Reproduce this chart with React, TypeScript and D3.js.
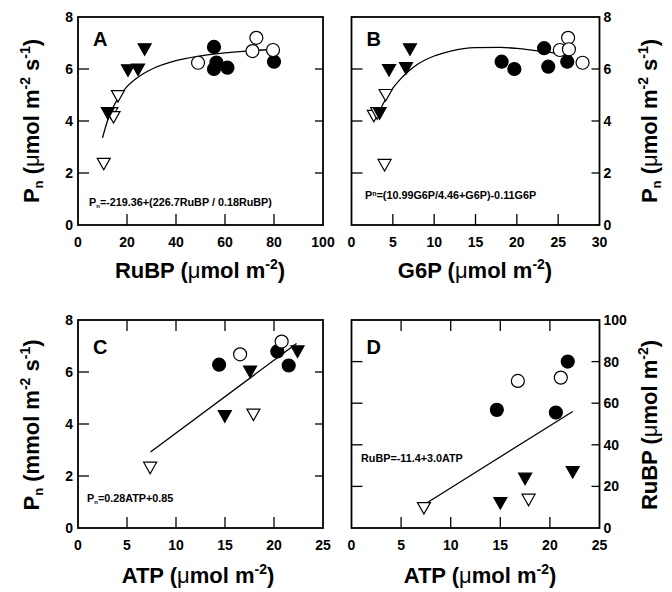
import React from 'react';
import * as d3 from 'd3';

const FONT = "'Liberation Sans', Arial, Helvetica, sans-serif";

// Panel A: Pn vs RuBP
const aRubp = [10.5, 16.3, 13.6, 14.5, 12.2, 20.4, 24.5, 27.2, 55.5, 55.5, 56.5, 61, 80, 49, 72.8, 71.2, 79.6];
const aPn = [2.35, 4.96, 4.3, 4.15, 4.3, 5.95, 5.98, 6.76, 6.85, 6.0, 6.25, 6.05, 6.28, 6.24, 7.2, 6.69, 6.73];
const aKind = ['ot', 'ot', 'ot', 'ot', 'ft', 'ft', 'ft', 'ft', 'fc', 'fc', 'fc', 'fc', 'fc', 'oc', 'oc', 'oc', 'oc'];
const aFitX = [10, 12, 15, 20, 25, 30, 40, 50, 60, 70, 80];
const aFitY = [3.35, 4.0, 4.65, 5.32, 5.72, 5.99, 6.32, 6.5, 6.62, 6.7, 6.75];

// Panel B: Pn vs G6P
const bG6p = [4.0, 4.13, 2.7, 3.1, 3.4, 4.54, 6.59, 7.07, 18.16, 19.7, 23.3, 23.8, 26.1, 26.2, 25.2, 26.3, 27.95];
const bPn = [2.31, 5.0, 4.2, 4.3, 4.3, 5.96, 6.03, 6.76, 6.28, 6.0, 6.8, 6.09, 6.28, 7.2, 6.73, 6.76, 6.24];
const bKind = ['ot', 'ot', 'ot', 'ot', 'ft', 'ft', 'ft', 'ft', 'fc', 'fc', 'fc', 'fc', 'fc', 'oc', 'oc', 'oc', 'oc'];
const bFitX = [3, 4, 5, 6, 7, 8, 10, 12, 15, 18, 20, 22, 25];
const bFitY = [4.15, 4.76, 5.26, 5.64, 5.94, 6.18, 6.5, 6.69, 6.82, 6.83, 6.79, 6.72, 6.6];

// Panel C: Pn vs ATP
const cAtp = [7.36, 14.98, 17.9, 17.56, 22.4, 14.4, 20.34, 21.5, 16.54, 20.78];
const cPn = [2.32, 4.3, 4.36, 6.02, 6.79, 6.28, 6.79, 6.25, 6.68, 7.17];
const cKind = ['ot', 'ft', 'ot', 'ft', 'ft', 'fc', 'fc', 'fc', 'oc', 'oc'];
const cFitX = [7.4, 22.3];
const cFitY = [2.92, 7.1];

// Panel D: RuBP vs ATP
const dAtp = [7.3, 15.0, 17.85, 17.5, 22.3, 14.65, 20.6, 21.8, 16.77, 21.1];
const dRubp = [9.6, 12, 13.6, 23.7, 26.9, 56.8, 55.5, 80, 70.7, 72.3];
const dKind = ['ot', 'ft', 'ot', 'ft', 'ft', 'fc', 'fc', 'fc', 'oc', 'oc'];
const dFitX = [7.5, 22.3];
const dFitY = [11.8, 56];

const pnTicks = [0, 2, 4, 6, 8];
const rubpTicks = [0, 20, 40, 60, 80, 100];
const g6pTicks = [0, 5, 10, 15, 20, 25, 30];
const atpTicks = [0, 5, 10, 15, 20, 25];

type Box = { x0: number; x1: number; y0: number; y1: number };

const Marker = ({ x, y, kind }: { x: number; y: number; kind: string }) => {
  const fill = kind[0] === 'f' ? '#000' : '#fff';
  if (kind[1] === 'c') {
    return <circle cx={x} cy={y} r={6.5} fill={fill} stroke="#000" strokeWidth={1.2} />;
  }
  const path = `M${x - 6.5},${y - 5.5}L${x + 6.5},${y - 5.5}L${x},${y + 6}Z`;
  return <path d={path} fill={fill} stroke="#000" strokeWidth={1.2} />;
};

interface PanelProps {
  box: Box;
  xTicks: number[];
  yTicks: number[];
  xs: number[];
  ys: number[];
  kinds: string[];
  fitX: number[];
  fitY: number[];
  smooth: boolean;
  letter: string;
  letterY: number;
  labelsRight: boolean;
  topTicks: boolean;
}

const Panel: React.FC<PanelProps> = ({ box, xTicks, yTicks, xs, ys, kinds, fitX, fitY, smooth, letter, letterY, labelsRight, topTicks }) => {
  const x = d3.scaleLinear().domain([xTicks[0], xTicks[xTicks.length - 1]]).range([box.x0, box.x1]);
  const y = d3.scaleLinear().domain([yTicks[0], yTicks[yTicks.length - 1]]).range([box.y1, box.y0]);
  const line = d3.line<number>()
    .x((_, i) => x(fitX[i]))
    .y((d) => y(d))
    .curve(smooth ? d3.curveMonotoneX : d3.curveLinear);
  const tl = 11;
  const innerX = xTicks.slice(1, -1);
  const innerY = yTicks.slice(1, -1);
  return (
    <g>
      <rect x={box.x0} y={box.y0} width={box.x1 - box.x0} height={box.y1 - box.y0} fill="none" stroke="#000" strokeWidth={1.8} />
      {innerX.map((t) => (
        <line key={'xb' + t} x1={x(t)} x2={x(t)} y1={box.y1} y2={box.y1 - tl} stroke="#000" strokeWidth={1.3} />
      ))}
      {topTicks && innerX.map((t) => (
        <line key={'xt' + t} x1={x(t)} x2={x(t)} y1={box.y0} y2={box.y0 + tl} stroke="#000" strokeWidth={1.3} />
      ))}
      {innerY.map((t) => (
        <g key={'y' + t}>
          <line x1={box.x0} x2={box.x0 + tl} y1={y(t)} y2={y(t)} stroke="#000" strokeWidth={1.3} />
          <line x1={box.x1} x2={box.x1 - 8} y1={y(t)} y2={y(t)} stroke="#000" strokeWidth={1.3} />
        </g>
      ))}
      {xTicks.map((t) => (
        <text key={'xl' + t} x={x(t)} y={box.y1 + 22} textAnchor="middle" fontSize={14} fontWeight="bold" fontFamily={FONT}>{t}</text>
      ))}
      {yTicks.map((t) => (
        <text key={'yl' + t} x={labelsRight ? box.x1 + 4 : box.x0 - 5} y={y(t) + 5} textAnchor={labelsRight ? 'start' : 'end'} fontSize={14} fontWeight="bold" fontFamily={FONT}>{t}</text>
      ))}
      <path d={line(fitY) || ''} fill="none" stroke="#000" strokeWidth={1.3} />
      {xs.map((v, i) => (
        <Marker key={i} x={x(v)} y={y(ys[i])} kind={kinds[i]} />
      ))}
      <text x={box.x0 + 15} y={letterY} fontSize={20} fontWeight="bold" fontFamily={FONT}>{letter}</text>
    </g>
  );
};

const YTitle = ({ cx, cy, mmol }: { cx: number; cy: number; mmol?: boolean }) => (
  <text transform={`translate(${cx},${cy}) rotate(-90)`} textAnchor="middle" fontSize={22} fontWeight="bold" fontFamily={FONT}>
    P<tspan dy={4} fontSize={13}>n</tspan>
    <tspan dy={-4}> (</tspan>
    {mmol ? 'm' : <tspan fontWeight="normal">μ</tspan>}mol m
    <tspan dy={-9} fontSize={14}>-2</tspan>
    <tspan dy={9}> s</tspan>
    <tspan dy={-9} fontSize={14}>-1</tspan>
    <tspan dy={9}>)</tspan>
  </text>
);

const UnitTitle = ({ x, y, name, rotate }: { x: number; y: number; name: string; rotate?: boolean }) => (
  <text transform={`translate(${x},${y})${rotate ? ' rotate(-90)' : ''}`} textAnchor="middle" fontSize={22} fontWeight="bold" fontFamily={FONT}>
    {name} (<tspan fontWeight="normal">μ</tspan>mol m
    <tspan dy={-9} fontSize={14}>-2</tspan>
    <tspan dy={9}>)</tspan>
  </text>
);

const boxA: Box = { x0: 78, x1: 323, y0: 17, y1: 225 };
const boxB: Box = { x0: 351.5, x1: 599.5, y0: 17, y1: 225 };
const boxC: Box = { x0: 78, x1: 323, y0: 320, y1: 528 };
const boxD: Box = { x0: 351.5, x1: 599.5, y0: 320, y1: 528 };

const EQ = 10.8;

const App: React.FC = () => (
  <svg width={672} height={592} style={{ position: 'absolute', left: 0, top: 0, background: '#fff' }}>
    <Panel box={boxA} xTicks={rubpTicks} yTicks={pnTicks} xs={aRubp} ys={aPn} kinds={aKind} fitX={aFitX} fitY={aFitY} smooth letter="A" letterY={46} labelsRight={false} topTicks={false} />
    <Panel box={boxB} xTicks={g6pTicks} yTicks={pnTicks} xs={bG6p} ys={bPn} kinds={bKind} fitX={bFitX} fitY={bFitY} smooth letter="B" letterY={46} labelsRight topTicks={false} />
    <Panel box={boxC} xTicks={atpTicks} yTicks={pnTicks} xs={cAtp} ys={cPn} kinds={cKind} fitX={cFitX} fitY={cFitY} smooth={false} letter="C" letterY={354} labelsRight={false} topTicks />
    <Panel box={boxD} xTicks={atpTicks} yTicks={rubpTicks} xs={dAtp} ys={dRubp} kinds={dKind} fitX={dFitX} fitY={dFitY} smooth={false} letter="D" letterY={354} labelsRight topTicks />

    {/* equations */}
    <text x={89} y={206} fontSize={EQ} fontWeight="bold" fontFamily={FONT}>
      P<tspan dy={2} fontSize={6}>n</tspan><tspan dy={-2}>=-219.36+(226.7RuBP / 0.18RuBP)</tspan>
    </text>
    <text x={365} y={199} fontSize={EQ} fontWeight="bold" fontFamily={FONT}>
      P<tspan dy={-3} fontSize={7}>n</tspan><tspan dy={3}>=(10.99G6P/4.46+G6P)-0.11G6P</tspan>
    </text>
    <text x={87} y={502} fontSize={EQ} fontWeight="bold" fontFamily={FONT}>
      P<tspan dy={2} fontSize={6}>n</tspan><tspan dy={-2}>=0.28ATP+0.85</tspan>
    </text>
    <text x={361} y={462} fontSize={EQ} fontWeight="bold" fontFamily={FONT}>RuBP=-11.4+3.0ATP</text>

    {/* axis titles */}
    <YTitle cx={39} cy={121} />
    <YTitle cx={39} cy={425} mmol />
    <YTitle cx={657} cy={121} />
    <UnitTitle x={657} y={425} name="RuBP" rotate />
    <UnitTitle x={200} y={278} name="RuBP" />
    <UnitTitle x={475} y={278} name="G6P" />
    <UnitTitle x={198} y={583} name="ATP" />
    <UnitTitle x={480} y={583} name="ATP" />
  </svg>
);

export default App;
